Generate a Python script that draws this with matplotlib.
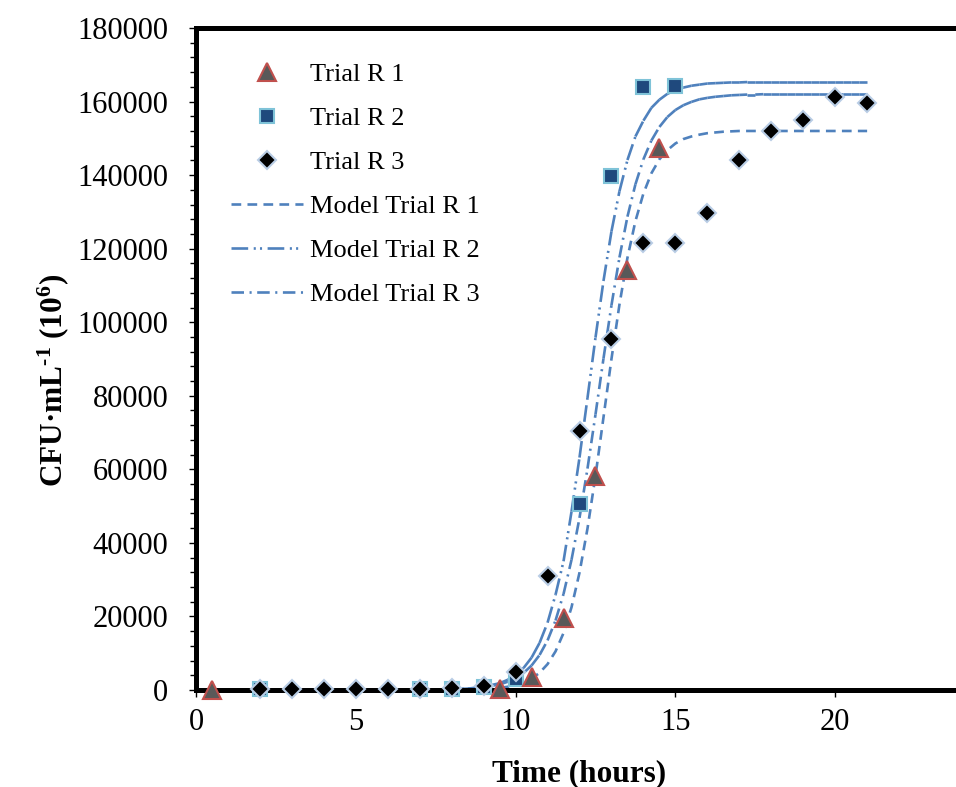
import numpy as np
import matplotlib
matplotlib.use("Agg")
import matplotlib.pyplot as plt  # noqa: E402
from matplotlib.collections import LineCollection  # noqa: E402
from matplotlib.lines import Line2D  # noqa: E402
from matplotlib.ticker import MultipleLocator  # noqa: E402

plt.rcParams["font.family"] = ["Liberation Serif", "DejaVu Serif"]
plt.rcParams["lines.scale_dashes"] = False
plt.rcParams["mathtext.fontset"] = "custom"
plt.rcParams["mathtext.default"] = "rm"
plt.rcParams["mathtext.rm"] = "Liberation Serif:bold"
plt.rcParams["mathtext.bf"] = "Liberation Serif:bold"

# --- measured counts (CFU/mL, x10^6) ---
time_r1 = [0.5, 9.5, 10.5, 11.5, 12.5, 13.5, 14.5]
cfu_r1 = [0, 300, 3600, 19500, 58300, 114300, 147400]

time_r2 = [2, 7, 8, 9, 10, 12, 13, 14, 15]
cfu_r2 = [150, 250, 350, 800, 3000, 50500, 139800, 164000, 164300]

time_r3 = [2, 3, 4, 5, 6, 7, 8, 9, 10, 11, 12, 13, 14, 15, 16, 17, 18, 19, 20, 21]
cfu_r3 = [250, 250, 300, 300, 350, 400, 500, 1000, 4900, 31000, 70300, 95500,
          121600, 121600, 129800, 144200, 152000, 155000, 161300, 159600]

# --- model curves (0-9 h every 0.5 h, then every 0.25 h) ---
time_model = np.concatenate([np.arange(0, 9.5, 0.5), np.arange(9.5, 21.01, 0.25)])

model_r1 = [0, 0, 0, 0, 0, 0, 0, 0, 0, 0, 0, 0, 2, 3, 8, 19, 45, 105, 245,
            573, 876, 1336, 2035, 3090, 4670, 7030, 10500, 15490, 22490,
            31900, 43900, 58200, 74100, 90000, 104800, 117500, 127500,
            135000, 140500, 144300, 146800, 148600, 149800, 150500, 151000,
            151400, 151600, 151800, 151900] + [152000] * 17

model_r2 = [0, 0, 0, 0, 0, 0, 0, 0, 0, 0, 0, 3, 7, 15, 34, 76, 170, 380, 840,
            1850, 2750, 4000, 5990, 8800, 12800, 18300, 25900, 35000, 48500,
            63200, 79400, 95800, 111200, 124700, 135600, 144100, 150500,
            154800, 158300, 160500, 162100, 163100, 163800, 164300, 164600,
            164900, 165000, 165100, 165200, 165200] + [165300] * 16

model_r3 = [0, 0, 0, 0, 0, 0, 0, 0, 0, 0, 2, 4, 8, 17, 36, 77, 163, 344, 730,
            1530, 2220, 3210, 4640, 6660, 9510, 13480, 18890, 26100, 35400,
            46800, 60200, 74900, 90100, 104600, 117600, 128700, 137500,
            144300, 149400, 153100, 155800, 157700, 159000, 159900, 160600,
            161000, 161300, 161500, 161700, 161800, 161900, 161900] + [162000] * 14

BLUE = "#4F81BD"
DASH_R1 = (0, (7, 4.5))
DASH_R2 = (0, (12, 4, 1.5, 3, 1.5, 4))
DASH_R3 = (0, (9, 4, 1.5, 4))
LW = 1.9


def segments(t, y):
    pts = np.column_stack([t, y])
    return np.stack([pts[:-1], pts[1:]], axis=1)


fig = plt.figure(figsize=(9.56, 7.87), dpi=100)
ax = fig.add_axes([196 / 956, 1 - 690 / 787, (963 - 196) / 956, (690 - 28) / 787])

# model curves (Excel restarts the dash pattern at every point -> LineCollection)
ax.plot(time_model, model_r1, color=BLUE, lw=LW, ls=DASH_R1, zorder=2)
ax.add_collection(LineCollection(segments(time_model, model_r2), colors=BLUE,
                                 linewidths=LW, linestyles=[DASH_R2], zorder=2))
ax.add_collection(LineCollection(segments(time_model, model_r3), colors=BLUE,
                                 linewidths=LW, linestyles=[DASH_R3], zorder=2))

h_r2, = ax.plot(time_r2, cfu_r2, ls="none", marker="s", ms=9.5, mfc="#1F497D",
                mec="#7FC3D8", mew=1.5, zorder=3, clip_on=False)
h_r3, = ax.plot(time_r3, cfu_r3, ls="none", marker="D", ms=9, mfc="black",
                mec="#B9CDE5", mew=1.5, zorder=4, clip_on=False)
h_r1, = ax.plot(time_r1, cfu_r1, ls="none", marker="^", ms=13.5, mfc="#595959",
                mec="#C0504D", mew=1.5, zorder=5, clip_on=False)

ax.set_xlim(0, 24)
ax.set_ylim(0, 180000)
ax.xaxis.set_major_locator(MultipleLocator(5))
ax.yaxis.set_major_locator(MultipleLocator(20000))
ax.yaxis.set_minor_locator(MultipleLocator(4000))

for side in ("left", "bottom", "top", "right"):
    ax.spines[side].set_linewidth(3.6)
ax.tick_params(axis="both", which="both", direction="out", width=1, labelsize=22)
ax.tick_params(axis="both", which="major", length=5)
ax.tick_params(axis="y", which="minor", length=4)
ax.tick_params(axis="y", pad=15)
ax.tick_params(axis="x", pad=8)

ax.set_xlabel("Time (hours)", fontsize=22.5, fontweight="bold", labelpad=16)
ax.set_ylabel(r"CFU·mL$^{\text{-1}}$ (10$^{6}$)", fontsize=22.5,
              fontweight="bold")
ax.yaxis.set_label_coords(-0.163, 0.467)

handles = [h_r1, h_r2, h_r3,
           Line2D([], [], color=BLUE, lw=LW, ls=DASH_R1),
           Line2D([], [], color=BLUE, lw=LW, ls=DASH_R2),
           Line2D([], [], color=BLUE, lw=LW, ls=DASH_R3)]
labels = ["Trial R 1", "Trial R 2", "Trial R 3",
          "Model Trial R 1", "Model Trial R 2", "Model Trial R 3"]
ax.legend(handles, labels, loc="upper left", bbox_to_anchor=(0.046, 0.948),
          frameon=False, fontsize=19, numpoints=1, handlelength=2.7,
          handletextpad=0.3, labelspacing=0.78, borderpad=0, borderaxespad=0)

fig.savefig("out.png", dpi=100)
